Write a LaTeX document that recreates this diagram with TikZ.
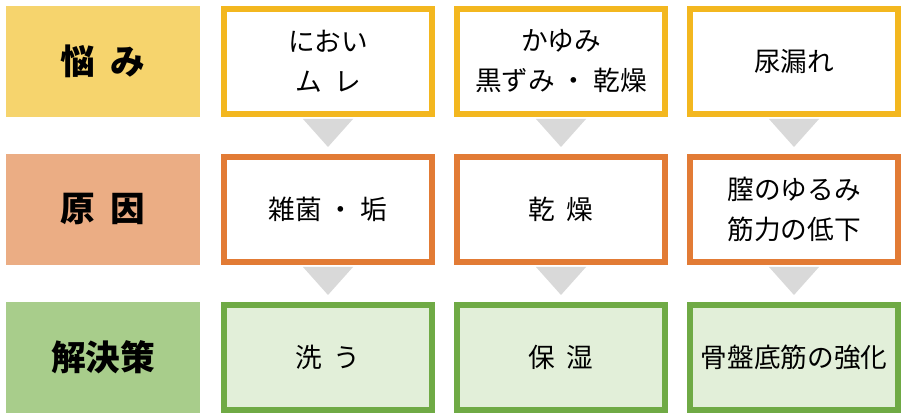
\documentclass[tikz,border=0pt]{standalone}
\usepackage{fontspec}
\setmainfont{Noto Sans CJK JP}
\usetikzlibrary{positioning}

\definecolor{headA}{HTML}{F6D46D}
\definecolor{lineA}{HTML}{F3B71F}
\definecolor{headB}{HTML}{EBAD84}
\definecolor{lineB}{HTML}{E27B35}
\definecolor{headC}{HTML}{A8CD8B}
\definecolor{lineC}{HTML}{6FAA45}
\definecolor{fillC}{HTML}{E2EFD9}
\definecolor{tri}{HTML}{D9D9D9}
\newcommand{\gp}{\hspace{0.45em}}

\begin{document}
\begin{tikzpicture}[x=0.75pt,y=0.75pt,node distance=14.25pt]
\tikzstyle{every node}=[align=center,font=\fontsize{20}{30}\selectfont]
\tikzstyle{rowhead}=[minimum width=145.5pt,minimum height=83.25pt,inner sep=0pt,outer sep=0pt,font=\bfseries\fontsize{26}{30}\selectfont]
\tikzstyle{cell}=[line width=4.5pt,minimum width=156pt,minimum height=78.75pt,inner sep=0pt]
\tikzstyle{down}=[fill=tri]

\useasboundingbox (0,0) rectangle (908,-420);

% rows: problem / cause / remedy
\node[rowhead,fill=headA,anchor=north west] (hA) at (6,-6) {悩\gp み};
\node[cell,draw=lineA,right=15.75pt of hA] (a1) {におい\\ム\gp レ};
\node[cell,draw=lineA,right=of a1] (a2) {かゆみ\\黒ずみ ・ 乾燥};
\node[cell,draw=lineA,right=of a2] (a3) {尿漏れ};

\node[rowhead,fill=headB,below=27.75pt of hA] (hB) {原\gp 因};
\node[cell,draw=lineB,below=27.75pt of a1] (b1) {雑菌 ・ 垢};
\node[cell,draw=lineB,below=27.75pt of a2] (b2) {乾\gp 燥};
\node[cell,draw=lineB,below=27.75pt of a3] (b3) {膣のゆるみ\\筋力の低下};

\node[rowhead,fill=headC,below=27.75pt of hB] (hC) {解決策};
\node[cell,draw=lineC,fill=fillC,below=27.75pt of b1] (c1) {洗\gp う};
\node[cell,draw=lineC,fill=fillC,below=27.75pt of b2] (c2) {保\gp 湿};
\node[cell,draw=lineC,fill=fillC,below=27.75pt of b3] (c3) {骨盤底筋の強化};

% triangles between rows
\foreach \u in {a,b}
  \foreach \c in {1,2,3}
    \fill[down] ([yshift=-1.5pt]\u\c.south) ++(-18.75pt,0) -- ++(37.5pt,0) -- ++(-18.75pt,-21pt) -- cycle;
\end{tikzpicture}
\end{document}
